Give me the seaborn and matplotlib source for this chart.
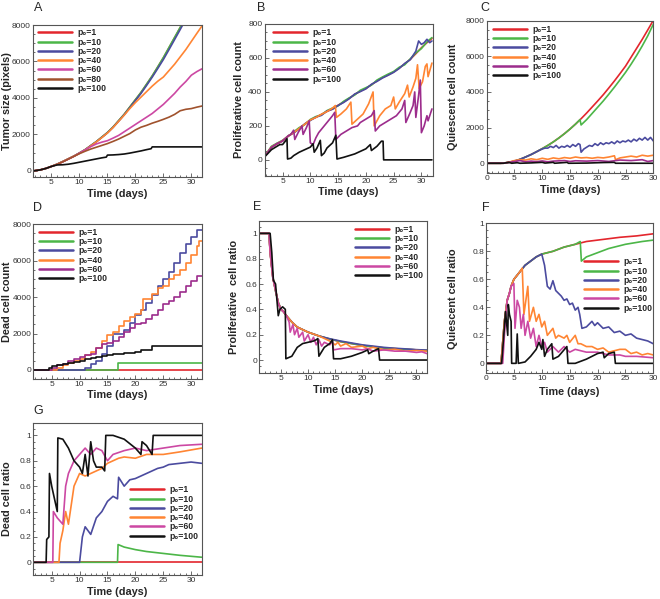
import numpy as np
import pandas as pd
import matplotlib
matplotlib.use("Agg")
import matplotlib.pyplot as plt
import seaborn as sns
from matplotlib.lines import Line2D
from matplotlib.ticker import AutoMinorLocator, FuncFormatter

sns.set_style("white")
plt.rcParams['font.family'] = ['Liberation Sans', 'DejaVu Sans']

# ---------------- data (time in days, value) ----------------
series_names = ["p1", "p10", "p20", "p40", "p60", "p80", "p100"]
legend_labels = {"p1": "p\u2080=1", "p10": "p\u2080=10", "p20": "p\u2080=20", "p40": "p\u2080=40",
                 "p60": "p\u2080=60", "p80": "p\u2080=80", "p100": "p\u2080=100"}

# Panel A: tumor size (pixels)
A_p1 = [(1.7,0),(3,60),(4,140),(5,250),(6,370),(7,510),(8,660),(9,810),(10,980),(11,1160),(12,1380),(13,1600),(14,1850),
        (15,2100),(16,2400),(17,2750),(18,3100),(19,3500),(20,3900),(21,4300),(22,4750),(23,5200),(24,5700),(25,6200),
        (26,6750),(27,7300),(28,7850),(28.6,8200)]
A_p10 = [(1.7,0),(3,60),(4,140),(5,255),(6,375),(7,515),(8,665),(9,815),(10,990),(11,1170),(12,1390),(13,1610),(14,1860),
         (15,2110),(16,2410),(17,2760),(18,3110),(19,3510),(20,3910),(21,4310),(22,4760),(23,5210),(24,5710),(25,6220),
         (26,6770),(27,7320),(28,7870),(28.6,8220)]
A_p20 = [(1.7,0),(3,60),(4,140),(5,250),(6,370),(7,510),(8,660),(9,810),(10,980),(11,1160),(12,1380),(13,1600),(14,1840),
         (15,2090),(16,2390),(17,2730),(18,3080),(19,3470),(20,3860),(21,4250),(22,4690),(23,5140),(24,5620),(25,6110),
         (26,6650),(27,7200),(28,7750),(28.8,8200)]
A_p40 = [(1.7,0),(3,60),(4,140),(5,250),(6,370),(7,510),(8,660),(9,810),(10,970),(11,1150),(12,1370),(13,1590),(14,1830),
         (15,2080),(16,2380),(17,2720),(18,3060),(19,3420),(20,3750),(21,4050),(22,4350),(23,4650),(24,4920),(25,5150),
         (26,5500),(27,5850),(28,6250),(29,6650),(30,7100),(31,7550),(31.9,7950)]
A_p60 = [(1.7,0),(3,60),(4,140),(5,250),(6,360),(7,500),(8,650),(9,800),(10,980),(11,1150),(12,1330),(13,1480),(14,1580),
         (15,1660),(16,1800),(17,1950),(18,2150),(19,2350),(20,2550),(21,2750),(22,2950),(23,3150),(24,3400),(25,3650),
         (26,3950),(27,4250),(28,4600),(29,4900),(30,5250),(31,5450),(31.9,5600)]
A_p80 = [(1.7,0),(3,60),(4,140),(5,250),(6,360),(7,500),(8,650),(9,800),(10,950),(11,1080),(12,1200),(13,1300),(14,1400),
         (15,1500),(16,1620),(17,1750),(18,1900),(19,2050),(20,2250),(21,2400),(22,2500),(23,2620),(24,2720),(25,2830),
         (26,2950),(27,3100),(28,3300),(29,3380),(30,3420),(31,3500),(31.9,3560)]
A_p100 = [(1.7,0),(3,60),(4,140),(5,250),(6,330),(7,340),(8,370),(9,420),(10,480),(11,540),(12,600),(13,660),(14,720),
          (14.8,760),(15,870),(16,880),(17,900),(18,930),(19,980),(20,1040),(21,1100),(22,1170),(22.8,1220),(23,1320),(31.9,1320)]

# Panel B: proliferative cell count
B_p1 = [(1.75,20),(2,30),(3,75),(4,95),(5,112),(6,140),(7,160),(8,185),(9,210),(10,235),(11,250),(12,268),(13,285),(14,300),
        (15,322),(16,340),(17,362),(18,385),(19,405),(20,420),(21,442),(22,465),(23,485),(24,500),(25,518),(26,540),
        (27,565),(28,592),(29,625),(30,660),(31,690),(31.9,715)]
B_p10 = [(1.75,22),(2,32),(3,80),(4,98),(5,115),(6,138),(7,165),(8,190),(9,208),(10,238),(11,255),(12,265),(13,290),(14,305),
         (15,318),(16,345),(17,365),(18,382),(19,410),(20,425),(21,440),(22,470),(23,488),(24,505),(25,520),(26,545),
         (27,560),(28,595),(29,630),(30,655),(31,695),(31.9,720)]
B_p20 = [(1.75,20),(2,30),(3,72),(4,96),(5,110),(6,142),(7,158),(8,182),(9,212),(10,232),(11,252),(12,262),(13,288),(14,298),
         (15,320),(16,338),(17,360),(18,388),(19,402),(20,418),(21,445),(22,462),(23,482),(24,498),(25,515),(26,538),
         (27,568),(28,590),(29,640),(29.5,700),(30,680),(30.5,690),(31,710),(31.5,690),(31.9,700)]
B_p40 = [(1.75,20),(2,30),(3,75),(4,95),(5,112),(6,140),(7,160),(8,185),(9,210),(10,235),(11,250),(12,268),(13,285),(14,305),
         (14.5,320),(14.7,250),(15.5,270),(16.5,300),(17.3,340),(17.5,210),(18.5,240),(19.5,270),(20.5,330),(21.3,400),
         (21.5,200),(22.5,260),(23.5,300),(24.5,320),(25,370),(25.3,300),(26,340),(27,390),(27.5,440),(27.8,370),(28.5,430),
         (29,480),(29.3,560),(29.6,420),(30.2,460),(30.7,550),(31,565),(31.2,490),(31.9,570)]
B_p60 = [(1.75,20),(2,30),(3,75),(4,95),(5,112),(6,140),(6.5,150),(7,175),(7.2,120),(7.8,160),(8.5,200),(8.7,150),(9.3,190),
         (9.8,230),(10,100),(10.5,90),(11,130),(11.5,160),(12,180),(12.5,200),(13,220),(13.5,240),(14,260),(14.4,280),
         (14.6,120),(15.5,150),(16.5,170),(17.5,190),(18.5,200),(19,220),(20,240),(21,260),(21.5,290),(21.7,170),(22.5,200),
         (23.5,220),(24.5,240),(25.5,260),(26.5,300),(27,350),(27.2,220),(28,280),(28.5,320),(28.8,400),(29,250),(29.5,380),
         (29.8,470),(30,160),(30.5,200),(31,260),(31.2,230),(31.9,300)]
B_p100 = [(1.75,20),(2,25),(3,60),(4,80),(4.5,90),(5,90),(5.5,110),(5.8,125),(5.9,5),(6.5,10),(7,25),(8,45),(9,60),(10,75),
          (10.5,95),(10.7,45),(11.2,70),(11.8,115),(12,25),(12.5,40),(13,70),(14,100),(14.6,145),(14.8,5),(16,15),(17,25),
          (18,35),(19,50),(20,65),(20.8,90),(21,55),(22,80),(22.8,110),(23.1,110),(23.2,0),(31.9,0)]

# Panel C: quiescent cell count
C_p1 = [(0,0),(2.5,0),(3,10),(4,50),(5,120),(6,220),(7,350),(8,490),(9,650),(10,820),(11,1000),(12,1200),(13,1420),
        (14,1660),(15,1920),(16,2200),(17,2500),(18,2820),(19,3160),(20,3500),(21,3850),(22,4230),(23,4620),(24,5030),
        (25,5450),(26,5950),(27,6450),(28,6950),(29,7480),(30,8020)]
C_p10 = [(0,0),(2.5,0),(3,10),(4,50),(5,120),(6,220),(7,350),(8,490),(9,650),(10,820),(11,1000),(12,1200),(13,1420),
         (14,1660),(15,1920),(16,2200),(16.8,2450),(17,2150),(18,2450),(19,2800),(20,3150),(21,3500),(22,3880),(23,4270),
         (24,4680),(25,5100),(26,5560),(27,6050),(28,6580),(29,7150),(30,7800)]
C_p20 = [(0,0),(2.5,0),(3,10),(4,50),(5,120),(6,220),(7,350),(8,490),(9,650),(9.5,730),(10,800),(10.5,850),(11,850),
         (11.5,950),(12,880),(12.5,1000),(13,850),(13.5,950),(14,900),(14.5,1000),(15,900),(15.5,1050),(16,950),(16.5,1100),
         (16.8,1050),(17,620),(17.5,800),(18,900),(18.5,1000),(19,950),(19.5,1100),(20,1000),(20.5,1150),(21,1050),
         (21.5,1150),(22,1100),(22.5,1200),(23,1100),(23.5,1250),(24,1150),(24.5,1250),(25,1200),(25.5,1300),(26,1200),
         (26.5,1350),(27,1250),(27.5,1400),(28,1300),(28.5,1450),(29,1300),(29.5,1450),(30,1250)]
C_p40 = [(0,0),(3,0),(4,60),(5,150),(6,200),(7,180),(8,250),(9,200),(10,280),(11,220),(12,300),(13,250),(14,320),(15,280),
         (16,350),(17,300),(18,320),(19,280),(20,330),(21,300),(22,350),(23,420),(23.2,200),(24,300),(25,350),(26,400),
         (27,350),(28,450),(29,400),(30,450)]
C_p60 = [(0,0),(3,0),(4,50),(5,100),(6,150),(7,80),(8,120),(9,90),(10,130),(11,80),(12,120),(14,150),(15,100),(16,140),
         (18,120),(20,150),(22,100),(24,180),(26,150),(28,200),(29,100),(30,150)]
C_p100 = [(0,0),(3,0),(4,50),(4.5,0),(5.5,30),(6,0),(8,20),(10,50),(10.5,10),(12,50),(12.2,0),(14.5,50),(14.7,0),(18,10),
          (21,40),(23,50),(23.2,0),(30,0)]

# Panel D: dead cell count
D_p1 = [(1.7,0),(31.9,0)]
D_p10 = [(1.7,0),(16.8,0),(16.9,400),(31.9,400)]
D_p20 = [(1.7,0),(10,0),(11,100),(12,350),(13,500),(14,900),(15,1300),(16,2000),(17,2000),(18,2200),(19,2600),(20,3000),
         (21,3300),(22,3700),(23,4100),(24,4600),(25,5000),(26,5400),(27,5900),(28,6400),(29,6900),(30,7300),(31,7700),(31.9,7700)]
D_p40 = [(1.7,0),(5.5,0),(6,100),(7,300),(8,400),(9,500),(10,600),(11,800),(12,1000),(13,1200),(14,1600),(15,1900),
         (16,2100),(17,2400),(18,2700),(19,2900),(20,3100),(21,3300),(21.3,3900),(22,3900),(23,4200),(24,4500),(25,4600),
         (26,5000),(27,5200),(28,5500),(29,5900),(30,6300),(31,6800),(31.5,7100),(31.9,7100)]
D_p60 = [(1.7,0),(4.5,0),(5,100),(6,250),(7,350),(8,500),(9,600),(10,700),(11,800),(12,900),(13,1200),(14,1400),(15,1500),
         (16,1600),(17,1800),(18,2100),(19,2300),(20,2500),(21,2600),(22,2800),(23,3000),(24,3300),(25,3600),(26,3800),
         (27,4000),(28,4300),(29,4600),(30,4900),(31,5150),(31.9,5150)]
D_p100 = [(1.7,0),(4,0),(4.5,100),(5,200),(6,300),(7,350),(8,400),(9,420),(10,500),(11,600),(12,650),(13,700),(14,750),
          (15,850),(16,900),(17,900),(18,950),(19,950),(20,1000),(21,1100),(22,1100),(23,1300),(31.9,1320)]

# Panel E: proliferative cell ratio
E_p1 = [(1,1.0),(2.8,1.0),(3,0.85),(3.5,0.65),(4,0.55),(4.5,0.45),(5,0.40),(5.5,0.38),(6,0.35),(7,0.30),(8,0.26),(9,0.24),
        (10,0.22),(12,0.19),(14,0.165),(16,0.145),(18,0.13),(20,0.115),(22,0.105),(24,0.095),(26,0.09),(28,0.085),(30,0.08),(32,0.075)]
E_p10 = [(1,1.0),(2.8,1.0),(3,0.86),(3.5,0.66),(4,0.54),(4.5,0.46),(5,0.40),(5.5,0.38),(6,0.35),(7,0.30),(8,0.26),(9,0.24),
         (10,0.22),(12,0.19),(14,0.166),(16,0.146),(18,0.13),(20,0.116),(22,0.105),(24,0.096),(26,0.09),(28,0.085),(30,0.08),(32,0.076)]
E_p20 = [(1,1.0),(2.8,1.0),(3,0.85),(3.5,0.65),(4,0.55),(4.5,0.45),(5,0.40),(5.5,0.38),(6,0.35),(7,0.30),(8,0.26),(9,0.24),
         (10,0.22),(12,0.19),(14,0.168),(16,0.15),(18,0.135),(20,0.12),(22,0.11),(24,0.1),(26,0.093),(28,0.088),(30,0.082),(32,0.078)]
E_p40 = [(1,1.0),(2.8,1.0),(3,0.85),(3.5,0.65),(4,0.55),(4.5,0.45),(5,0.40),(5.5,0.38),(6,0.35),(7,0.30),(8,0.26),(9,0.24),
         (10,0.22),(12,0.19),(13,0.17),(14,0.15),(15,0.12),(15.5,0.14),(16,0.11),(17,0.13),(18,0.10),(20,0.11),(21,0.09),
         (22,0.10),(24,0.08),(26,0.085),(28,0.07),(30,0.075),(32,0.07)]
E_p60 = [(1,1.0),(2.8,1.0),(3,0.85),(3.5,0.65),(4,0.55),(4.5,0.45),(5,0.40),(5.5,0.38),(6,0.35),(6.5,0.30),(6.7,0.22),
         (7.2,0.28),(7.5,0.20),(8,0.25),(8.3,0.18),(9,0.22),(9.3,0.15),(10,0.20),(10.5,0.14),(11,0.18),(11.5,0.12),(12,0.16),
         (12.5,0.11),(13,0.14),(14,0.12),(14.5,0.15),(14.7,0.08),(16,0.09),(18,0.09),(20,0.08),(21,0.09),(22,0.07),(24,0.08),
         (26,0.07),(28,0.07),(30,0.06),(31,0.065),(32,0.05)]
E_p100 = [(1,1.0),(3,1.0),(3.3,0.85),(3.6,0.63),(4,0.60),(4.2,0.50),(4.5,0.35),(4.8,0.40),(5.3,0.42),(5.8,0.40),(5.9,0.01),
          (7,0.03),(8,0.10),(9,0.13),(10,0.14),(11,0.15),(11.5,0.16),(11.8,0.17),(12,0.03),(13,0.10),(14,0.13),(14.5,0.16),
          (14.7,0.01),(16,0.01),(18,0.03),(20,0.06),(21,0.08),(21.2,0.05),(22,0.07),(23,0.09),(23.2,0.0),(32,0.0)]

# Panel F: quiescent cell ratio
F_p1 = [(0,0),(2.7,0),(3,0.15),(3.3,0.30),(3.8,0.45),(4.2,0.50),(4.5,0.55),(5,0.60),(6,0.65),(7,0.70),(8,0.73),(9,0.76),
        (10,0.78),(12,0.80),(14,0.83),(16,0.85),(18,0.87),(20,0.88),(24,0.90),(27,0.91),(30,0.925)]
F_p10 = [(0,0),(2.7,0),(3,0.15),(3.3,0.30),(3.8,0.45),(4.2,0.50),(4.5,0.55),(5,0.60),(6,0.65),(7,0.70),(8,0.73),(9,0.76),
         (10,0.78),(12,0.80),(14,0.83),(16,0.85),(16.9,0.87),(17.1,0.73),(18,0.76),(20,0.79),(22,0.82),(25,0.85),(28,0.87),(30,0.88)]
F_p20 = [(0,0),(2.7,0),(3,0.15),(3.3,0.30),(3.8,0.45),(4.2,0.50),(4.5,0.55),(5,0.60),(6,0.65),(7,0.70),(8,0.73),(9,0.76),
         (10,0.78),(10.5,0.70),(11,0.55),(11.5,0.53),(12,0.59),(12.5,0.52),(13,0.50),(13.5,0.48),(14,0.45),(14.5,0.46),
         (15,0.42),(15.5,0.43),(16,0.38),(16.5,0.40),(16.8,0.35),(17.2,0.25),(18,0.26),(19,0.30),(19.5,0.27),(20,0.29),
         (21,0.25),(22,0.26),(23,0.22),(24,0.23),(25,0.20),(26,0.21),(27,0.18),(28,0.17),(29,0.16),(30,0.14)]
F_p40 = [(0,0),(2.7,0),(3,0.15),(3.3,0.30),(3.8,0.45),(4.2,0.50),(4.5,0.55),(5,0.60),(6,0.65),(6.5,0.68),(6.8,0.35),
         (7.5,0.55),(7.8,0.30),(8.5,0.40),(9,0.30),(9.5,0.35),(10,0.26),(10.5,0.30),(11,0.20),(12,0.25),(12.5,0.18),(13,0.20),
         (14,0.18),(14.5,0.20),(15,0.15),(16,0.20),(16.5,0.14),(17,0.14),(18,0.12),(19,0.12),(20,0.10),(21,0.11),(22,0.08),
         (23,0.09),(24,0.10),(25,0.10),(26,0.07),(27,0.08),(28,0.06),(29,0.07),(30,0.06)]
F_p60 = [(0,0),(3,0),(3.3,0.2),(3.8,0.45),(4.2,0.50),(4.5,0.55),(5,0.57),(5.2,0.25),(5.6,0.45),(6,0.40),(6.3,0.25),(6.7,0.35),
         (7,0.20),(7.5,0.30),(8,0.18),(8.5,0.25),(9,0.12),(9.5,0.20),(10,0.12),(10.5,0.15),(11,0.08),(12,0.12),(13,0.08),
         (14,0.12),(15,0.08),(16,0.10),(18,0.08),(20,0.08),(22,0.06),(24,0.06),(25,0.05),(27,0.05),(30,0.04)]
F_p100 = [(0,0),(2.8,0),(3,0.10),(3.5,0.37),(3.9,0.20),(4,0.42),(4.2,0.35),(4.5,0.30),(4.6,0.0),(5.4,0.0),(5.6,0.21),(5.8,0.0),
          (7,0.01),(8,0.05),(9,0.10),(9.5,0.15),(10,0.10),(10.2,0.17),(10.5,0.05),(11,0.10),(11.8,0.14),(12,0.03),(13,0.05),
          (14.5,0.12),(14.7,0.0),(16,0.0),(18,0.03),(20,0.07),(21,0.08),(21.2,0.04),(22,0.07),(23,0.08),(23.2,0.0),(30,0.0)]

# Panel G: dead cell ratio
G_p1 = [(1.7,0),(31.9,0)]
G_p10 = [(1.7,0),(16.8,0),(16.9,0.14),(18,0.12),(20,0.10),(22,0.085),(25,0.07),(28,0.055),(31.9,0.04)]
G_p20 = [(1.7,0),(10,0),(10.5,0.2),(11,0.28),(12,0.22),(13,0.35),(14,0.40),(15,0.48),(16,0.52),(16.8,0.50),(17,0.67),
         (18,0.60),(19,0.65),(20,0.66),(21,0.68),(22,0.70),(23,0.72),(24,0.74),(25,0.75),(26,0.77),(28,0.78),(30,0.79),(31.9,0.78)]
G_p40 = [(1.7,0),(6.3,0),(6.5,0.15),(7,0.25),(7.5,0.40),(8,0.30),(9,0.60),(10,0.70),(11,0.68),(12,0.70),(13,0.72),(14,0.74),
         (15,0.78),(16,0.80),(17,0.82),(18,0.83),(20,0.82),(22,0.85),(25,0.85),(28,0.87),(31.9,0.90)]
G_p60 = [(1.7,0),(5.2,0),(5.3,0.40),(6,0.35),(7,0.30),(7.5,0.60),(8,0.70),(9,0.80),(10,0.85),(11,0.90),(12,0.85),(13,0.90),
         (14,0.88),(15,0.80),(16,0.85),(18,0.88),(20,0.90),(22,0.88),(25,0.90),(28,0.92),(31.9,0.93)]
G_p100 = [(1.7,0),(4,0),(4.1,0.18),(4.5,0.20),(4.6,0.70),(5,0.60),(5.5,0.50),(6,0.40),(6.1,0.98),(7,0.97),(8,0.90),(9,0.80),
          (10,0.75),(10.5,0.70),(11,0.85),(11.5,0.68),(12,0.95),(12.5,0.80),(13,0.75),(14,0.75),(14.5,0.72),(14.7,1.0),
          (16,1.0),(18,0.97),(20,0.90),(21,0.85),(21.2,0.95),(22,0.92),(23,0.85),(23.2,1.0),(31.9,1.0)]

# ---------------- styling ----------------
W, H = 660, 599
col_light = {"p1": "#e3262d", "p10": "#4cb648", "p20": "#4b4b9f", "p40": "#ff8533",
             "p60": "#cc48a3", "p80": "#a0522d", "p100": "#111111"}
col_dark = dict(col_light, p60="#9c2c8c")

fig = plt.figure(figsize=(W / 100, H / 100), dpi=100)


def make_df(d):
    rows = []
    for name, pts in d.items():
        for t, v in pts:
            rows.append({"t": t, "v": v, "series": name})
    return pd.DataFrame(rows)


def fmt(x, pos):
    return "%g" % x


def panel(box, data, pal, xlim, ylim, yticks, xticks, ylabel, letter, letter_xy,
          ylab_off, xlab_off, leg_xy, drawstyle=None):
    l, r, t, b = box
    ax = fig.add_axes([l / W, 1 - b / H, (r - l) / W, (b - t) / H])
    df = make_df(data)
    order = [s for s in series_names if s in data]
    kw = {}
    if drawstyle:
        kw["drawstyle"] = drawstyle
    sns.lineplot(data=df, x="t", y="v", hue="series", hue_order=order, palette=pal,
                 estimator=None, sort=False, legend=False, linewidth=1.2, ax=ax, **kw)
    ax.set_xlim(*xlim)
    ax.set_ylim(*ylim)
    ax.set_xticks(xticks)
    ax.set_yticks(yticks)
    ax.xaxis.set_minor_locator(AutoMinorLocator(5))
    ax.yaxis.set_minor_locator(AutoMinorLocator(4))
    ax.xaxis.set_major_formatter(FuncFormatter(fmt))
    ax.yaxis.set_major_formatter(FuncFormatter(fmt))
    ax.tick_params(which="both", direction="in", labelsize=6, labelcolor="#333333",
                   color="#555555", width=0.6, pad=1.5, bottom=True, left=True, top=False, right=False)
    ax.tick_params(which="major", length=3)
    ax.tick_params(which="minor", length=1.6)
    for s in ax.spines.values():
        s.set_color("#555555")
        s.set_linewidth(0.8)
    ax.set_xlabel("Time (days)", fontsize=7.8, fontweight="bold", va="center")
    ax.set_ylabel(ylabel, fontsize=7.8, fontweight="bold", va="center")
    ax.xaxis.set_label_coords(0.5, xlab_off / (b - t))
    ax.yaxis.set_label_coords(ylab_off / (r - l), 0.5)
    fig.text(letter_xy[0] / W, 1 - letter_xy[1] / H, letter, fontsize=9, ha="left", va="center")
    handles = [Line2D([], [], color=pal[s], linewidth=1.8) for s in order]
    labels = [legend_labels[s] for s in order]
    fsz = 6.2
    ax.legend(handles, labels, loc="upper left", frameon=False,
              bbox_to_anchor=(leg_xy[0] / W, 1 - (leg_xy[1] - 4.6) / H), bbox_transform=fig.transFigure,
              prop={"size": fsz, "weight": "bold"}, handlelength=4.0, handletextpad=0.6,
              labelspacing=0.03, borderpad=0, borderaxespad=0)
    return ax


x5 = [5, 10, 15, 20, 25, 30]
x0 = [0, 5, 10, 15, 20, 25, 30]
ycount = [0, 2000, 4000, 6000, 8000]
yratio = [0, 0.2, 0.4, 0.6, 0.8, 1]

panel((33, 202, 25, 177), {"p1": A_p1, "p10": A_p10, "p20": A_p20, "p40": A_p40, "p60": A_p60, "p80": A_p80, "p100": A_p100},
      col_light, (1.7, 31.9), (-330, 8000), ycount, x5, "Tumor size (pixels)", "A", (34, 8), -26, -17, (38, 33))
panel((264.5, 432.5, 24, 176), {"p1": B_p1, "p10": B_p10, "p20": B_p20, "p40": B_p40, "p60": B_p60, "p100": B_p100},
      col_dark, (1.75, 32), (-95, 800), [0, 200, 400, 600, 800], x5, "Proliferative cell count", "B", (257, 8), -26, -16, (273, 33))
panel((486.7, 653.3, 20.7, 172.7), {"p1": C_p1, "p10": C_p10, "p20": C_p20, "p40": C_p40, "p60": C_p60, "p100": C_p100},
      col_dark, (0, 30), (-530, 8000), ycount, x0, "Quiescent cell count", "C", (480, 8), -34, -17.5, (493, 29.5))
panel((33.3, 201.7, 224.3, 379), {"p1": D_p1, "p10": D_p10, "p20": D_p20, "p40": D_p40, "p60": D_p60, "p100": D_p100},
      col_dark, (1.7, 31.9), (-495, 8000), ycount, x5, "Dead cell count", "D", (33, 208.5), -26, -16, (39, 232.5),
      drawstyle="steps-post")
panel((259.3, 427.3, 220.7, 372.7), {"p1": E_p1, "p10": E_p10, "p20": E_p20, "p40": E_p40, "p60": E_p60, "p100": E_p100},
      col_light, (1, 32), (-0.1, 1.1), yratio, x5, "Proliferative  cell ratio", "E", (253, 207.5), -25, -17.5, (355, 229.5))
panel((486, 653.3, 223.3, 373.3), {"p1": F_p1, "p10": F_p10, "p20": F_p20, "p40": F_p40, "p60": F_p60, "p100": F_p100},
      col_light, (0, 30), (-0.071, 1.0), yratio, x0, "Quiescent cell ratio", "F", (482, 208), -33, -18.5, (584, 262))
panel((33.3, 201.7, 422.7, 575), {"p1": G_p1, "p10": G_p10, "p20": G_p20, "p40": G_p40, "p60": G_p60, "p100": G_p100},
      col_light, (1.7, 31.9), (-0.1, 1.1), yratio, x5, "Dead cell ratio", "G", (33, 411), -26, -17, (130, 490))

fig.savefig("out.png", dpi=100)
